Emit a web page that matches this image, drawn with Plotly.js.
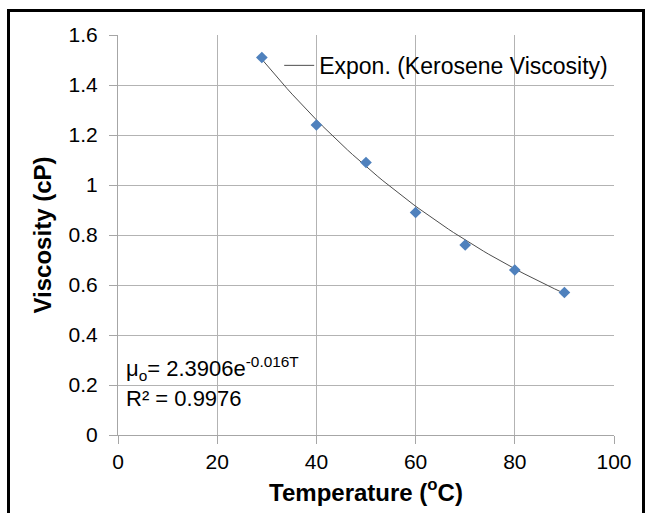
<!DOCTYPE html>
<html><head><meta charset="utf-8">
<script src="https://cdn.plot.ly/plotly-3.0.1.min.js"></script>
<style>
html,body{margin:0;padding:0;background:#fff;}
#wrap{position:relative;width:645px;height:513px;overflow:hidden;}
#chart{width:645px;height:513px;}
#frame{position:absolute;left:7px;top:9px;width:632px;height:520px;border:3px solid #000;pointer-events:none;}
</style></head>
<body>
<div id="wrap"><div id="chart"></div><div id="frame"></div></div>
<script>
var temperature = [29, 40, 50, 60, 70, 80, 90];
var viscosity = [1.51, 1.24, 1.09, 0.89, 0.76, 0.66, 0.57];
var fitA = 2.3906;
var fitB = -0.016;
var trendName = 'Expon. (Kerosene Viscosity)';
var xTicks = [0, 20, 40, 60, 80, 100];
var yTicks = [0, 0.2, 0.4, 0.6, 0.8, 1, 1.2, 1.4, 1.6];

var tMin = Math.min.apply(null, temperature), tMax = Math.max.apply(null, temperature);
var trendX = [], trendY = [];
for (var i = 0; i <= 60; i++) {
  var t = tMin + (tMax - tMin) * i / 60;
  trendX.push(t); trendY.push(fitA * Math.exp(fitB * t));
}

var font = 'Liberation Sans, Arial, sans-serif';
var data = [
  {x: trendX, y: trendY, mode: 'lines', name: trendName,
   line: {color: '#4d4d4d', width: 1}, showlegend: true, hoverinfo: 'skip'},
  {x: temperature, y: viscosity, mode: 'markers', name: 'Kerosene Viscosity',
   marker: {symbol: 'diamond', size: 9, color: '#4f81bd'}, showlegend: false}
];
var layout = {
  width: 645, height: 513,
  margin: {l: 118, r: 30.5, t: 34.5, b: 77.5},
  paper_bgcolor: '#fff', plot_bgcolor: '#fff',
  font: {family: font, color: '#000'},
  xaxis: {range: [0, 100], tickvals: xTicks, ticks: 'outside', ticklen: 8, tickcolor: '#a6a6a6',
    showgrid: true, gridcolor: '#b3b3b3', gridwidth: 1, zeroline: false,
    showline: true, linecolor: '#a6a6a6', linewidth: 1, mirror: false,
    tickfont: {size: 21, family: font},
    title: {text: 'Temperature (<sup>o</sup>C)', font: {size: 24, family: font, weight: 'bold'}, standoff: 11}},
  yaxis: {range: [0, 1.6], tickvals: yTicks, ticktext: yTicks.map(String), ticks: 'outside', ticklen: 8, tickcolor: '#a6a6a6',
    showgrid: true, gridcolor: '#b3b3b3', gridwidth: 1, zeroline: false,
    showline: true, linecolor: '#a6a6a6', linewidth: 1,
    ticklabelstandoff: 7,
    tickfont: {size: 21, family: font},
    title: {text: 'Viscosity (cP)', font: {size: 24, family: font, weight: 'bold'}, standoff: 10}},
  showlegend: true,
  legend: {x: 0.325, y: 0.924, xanchor: 'left', yanchor: 'middle', bgcolor: 'rgba(0,0,0,0)',
    font: {size: 23, family: font}, itemwidth: 30},
  annotations: [
    {xref: 'paper', yref: 'paper', x: 0.012, y: 0.166, xanchor: 'left', yanchor: 'middle', showarrow: false,
     text: 'μ<sub>o</sub>= 2.3906e<sup>-0.016T</sup>', font: {size: 22, family: font}},
    {xref: 'paper', yref: 'paper', x: 0.012, y: 0.092, xanchor: 'left', yanchor: 'middle', showarrow: false,
     text: 'R² = 0.9976', font: {size: 22, family: font}}
  ]
};
Plotly.newPlot('chart', data, layout, {displayModeBar: false, staticPlot: true});
</script>
</body></html>
